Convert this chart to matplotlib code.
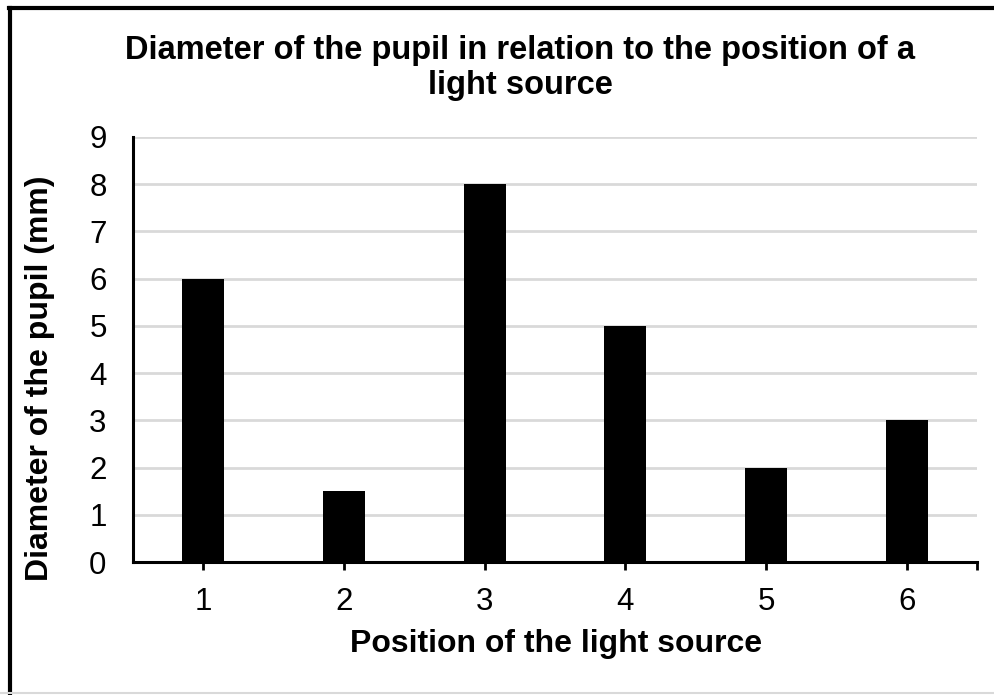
import matplotlib
matplotlib.use("Agg")
import matplotlib.pyplot as plt
from matplotlib.lines import Line2D

plt.rcParams['font.family'] = ['Liberation Sans', 'DejaVu Sans']

positions = [1, 2, 3, 4, 5, 6]
diameters = [6, 1.5, 8, 5, 2, 3]
tick_labels = ['1', '2', '3', '4', '5', '6']
yticks = list(range(0, 10))

W, H = 995, 695
fig = plt.figure(figsize=(W / 100, H / 100), dpi=100)
ax = fig.add_axes([133 / W, 1 - 562 / H, 844 / W, 425 / H])

ax.bar(positions, diameters, width=0.3, color='black', zorder=3)
ax.set_xlim(0.5, 6.5)
ax.set_ylim(0, 9)
ax.set_yticks(yticks)
ax.set_yticklabels([str(v) for v in yticks])
ax.set_xticks(positions)
ax.set_xticklabels(tick_labels)
ax.set_xticks([6.5], minor=True)
ax.yaxis.grid(True, color='#d9d9d9', linewidth=2, zorder=0)
ax.set_axisbelow(True)
for s in ['top', 'right']:
    ax.spines[s].set_visible(False)
ax.spines['left'].set_linewidth(2.2)
ax.spines['bottom'].set_linewidth(2.2)
ax.tick_params(axis='y', length=0, labelsize=22.5, pad=19)
ax.tick_params(axis='x', which='both', direction='out', length=6, width=2, labelsize=22.5, pad=12)

fig.text(520 / W, 1 - 68 / H, 'Diameter of the pupil in relation to the position of a\nlight source',
         ha='center', va='center', fontsize=23.5, fontweight='bold', linespacing=1.13)
fig.text(556 / W, 1 - 644 / H, 'Position of the light source', ha='center', va='center',
         fontsize=23, fontweight='bold')
fig.text(40 / W, 1 - 378 / H, 'Diameter of the pupil (mm)', ha='center', va='center',
         rotation=90, fontsize=23, fontweight='bold')

# outer chart border (left and top visible)
fig.add_artist(Line2D([10.5 / W, 10.5 / W], [0, 1 - 8 / H], color='black', linewidth=3, transform=fig.transFigure))
fig.add_artist(Line2D([9 / W, 1], [1 - 8 / H, 1 - 8 / H], color='black', linewidth=3, transform=fig.transFigure))
fig.add_artist(Line2D([0, 1], [1 - 692.5 / H, 1 - 692.5 / H], color='#d9d9d9', linewidth=1.5, transform=fig.transFigure))

fig.savefig('out.png', dpi=100)
